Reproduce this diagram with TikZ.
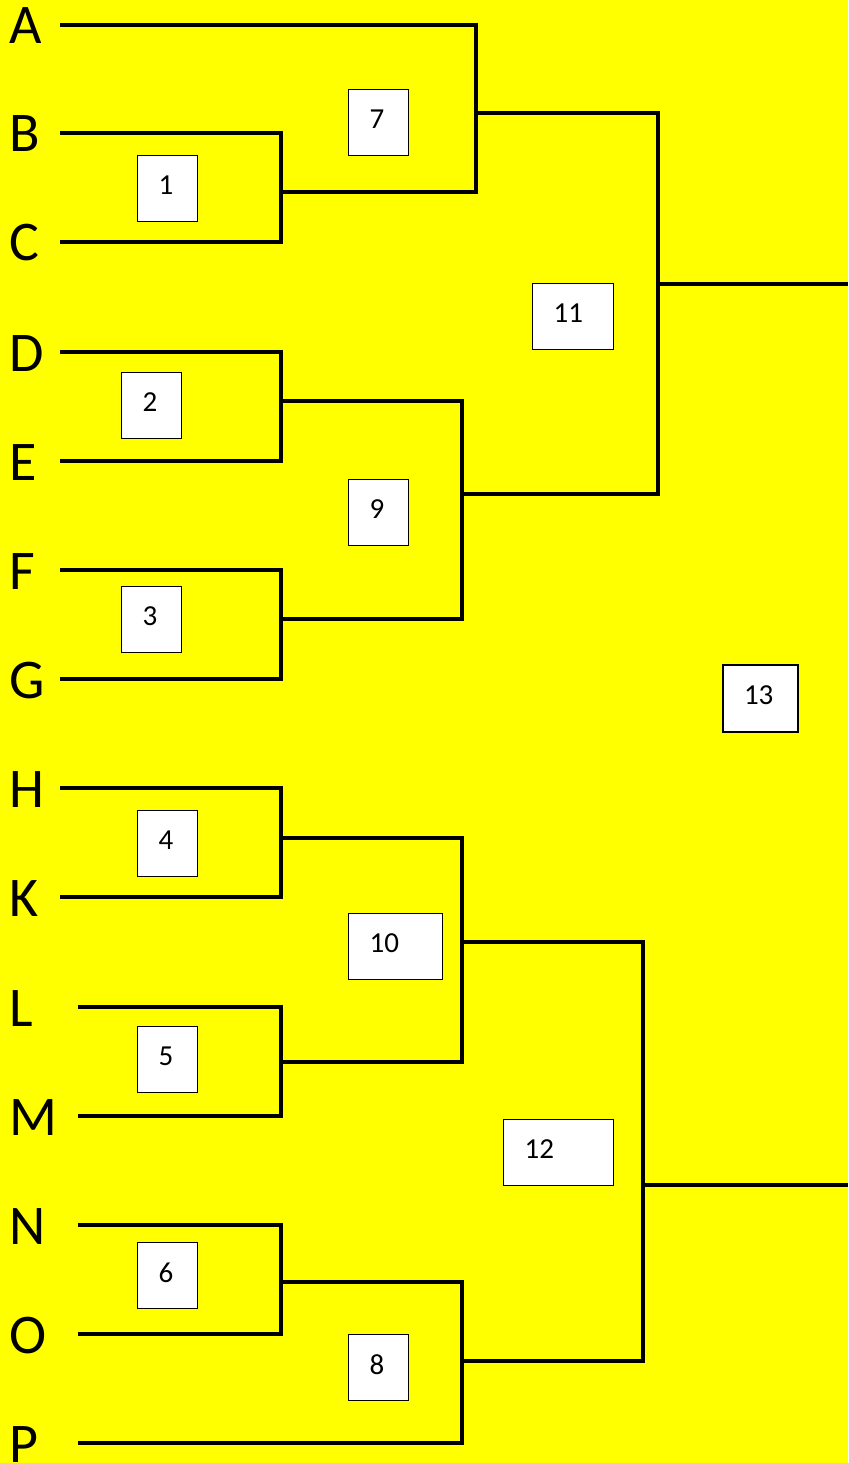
\documentclass[tikz,border=0pt]{standalone}
\usepackage{fontspec}
\setmainfont{Carlito}
\definecolor{bg}{RGB}{255,255,0}
\begin{document}
\begin{tikzpicture}[x=1pt,y=-1pt,
  team/.style={anchor=base west, inner sep=0pt, font=\fontsize{56}{60}\selectfont},
  wire/.style={line width=4.6pt, line join=miter},
  game/.style={draw=black, fill=white, line width=1.4pt, anchor=north west,
    inner xsep=21pt, inner ysep=0pt, minimum height=66pt, text depth=7pt,
    align=left, font=\fontsize{29}{32}\selectfont}]
\fill[bg] (0,0) rectangle (848,1463);
\useasboundingbox (0,0) rectangle (848,1463);
% teams
\node[team] (tA) at (9,44) {A};
\node[team] (tB) at (9,152) {B};
\node[team] (tC) at (9,261) {C};
\node[team] (tD) at (9,371) {D};
\node[team] (tE) at (9,480) {E};
\node[team] (tF) at (9,589) {F};
\node[team] (tG) at (9,698) {G};
\node[team] (tH) at (9,807) {H};
\node[team] (tK) at (9,916) {K};
\node[team] (tL) at (9,1026) {L};
\node[team] (tM) at (9,1135) {M};
\node[team] (tN) at (9,1244) {N};
\node[team] (tO) at (9,1353) {O};
\node[team] (tP) at (9,1462) {P};
% line starts
\coordinate (sA) at (60,25);
\coordinate (sB) at (60,133);
\coordinate (sC) at (60,242);
\coordinate (sD) at (60,352);
\coordinate (sE) at (60,461);
\coordinate (sF) at (60,570);
\coordinate (sG) at (60,679);
\coordinate (sH) at (60,788);
\coordinate (sK) at (60,897);
\coordinate (sL) at (78,1007);
\coordinate (sM) at (78,1116);
\coordinate (sN) at (78,1225);
\coordinate (sO) at (78,1334);
\coordinate (sP) at (78,1443);
% junctions
\coordinate (m1) at (281,192);
\coordinate (m2) at (281,401);
\coordinate (m3) at (281,619);
\coordinate (m4) at (281,838);
\coordinate (m5) at (281,1062);
\coordinate (m6) at (281,1282);
\coordinate (m7) at (476,113);
\coordinate (m9) at (462,494);
\coordinate (m10) at (462,942);
\coordinate (m8) at (462,1361);
\coordinate (m11) at (658,284);
\coordinate (m12) at (643,1185);
\coordinate (e11) at (848,284);
\coordinate (e12) at (848,1185);
% wires
\draw[wire] (sB) -| (m1);
\draw[wire] (sC) -| (m1);
\draw[wire] (sD) -| (m2);
\draw[wire] (sE) -| (m2);
\draw[wire] (sF) -| (m3);
\draw[wire] (sG) -| (m3);
\draw[wire] (sH) -| (m4);
\draw[wire] (sK) -| (m4);
\draw[wire] (sL) -| (m5);
\draw[wire] (sM) -| (m5);
\draw[wire] (sN) -| (m6);
\draw[wire] (sO) -| (m6);
\draw[wire] (sA) -| (m7);
\draw[wire] (m1) -| (m7);
\draw[wire] (m2) -| (m9);
\draw[wire] (m3) -| (m9);
\draw[wire] (m4) -| (m10);
\draw[wire] (m5) -| (m10);
\draw[wire] (m6) -| (m8);
\draw[wire] (sP) -| (m8);
\draw[wire] (m7) -| (m11);
\draw[wire] (m9) -| (m11);
\draw[wire] (m10) -| (m12);
\draw[wire] (m8) -| (m12);
\draw[wire] (m11) -- (e11);
\draw[wire] (m12) -- (e12);
% games
\node[game, text width=18pt] (g1) at (137,155) {1};
\node[game, text width=18pt] (g7) at (348,89) {7};
\node[game, text width=18pt] (g2) at (121,372) {2};
\node[game, text width=18pt] (g9) at (348,479) {9};
\node[game, text width=18pt] (g3) at (121,586) {3};
\node[game, text width=39pt] (g11) at (532,283) {11};
\node[game, text width=18pt] (g4) at (137,810) {4};
\node[game, text width=52pt] (g10) at (348,913) {10};
\node[game, text width=18pt] (g5) at (137,1026) {5};
\node[game, text width=18pt] (g6) at (137,1242) {6};
\node[game, text width=18pt] (g8) at (348,1334) {8};
\node[game, text width=68pt] (g12) at (503,1119) {12};
\node[game, text width=33pt, line width=2pt, minimum height=67pt] (g13) at (722,664) {13};
\end{tikzpicture}
\end{document}
